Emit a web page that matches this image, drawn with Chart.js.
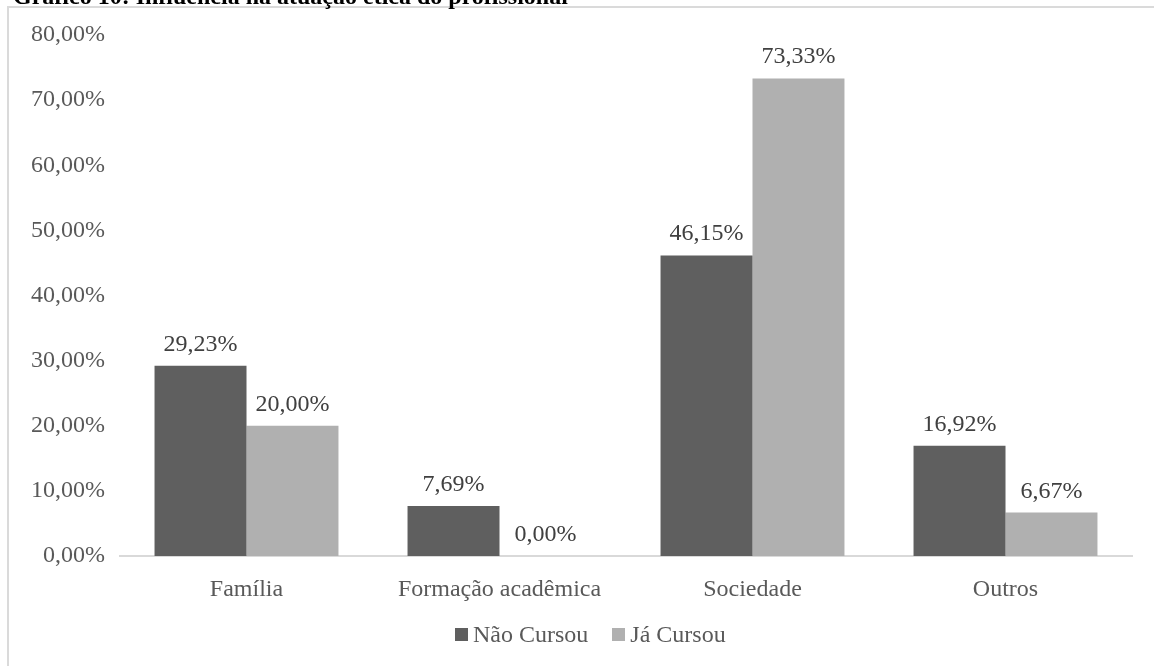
<!DOCTYPE html>
<html>
<head>
<meta charset="utf-8">
<script src="https://cdn.jsdelivr.net/npm/chart.js@4"></script>
<style>
  html, body { margin: 0; padding: 0; background: #fff; overflow: hidden; }
  body { width: 1154px; height: 666px; position: relative; }
  #frame { position: absolute; left: 7px; top: 6px; width: 1200px; height: 720px; border: 2px solid #dadada; box-sizing: border-box; }
  #chartBox { position: absolute; left: 0; top: 0; width: 1154px; height: 666px; }
  #legend { position: absolute; left: 455px; top: 621px; display: flex; align-items: center;
            font-family: "Liberation Serif", "Times New Roman", serif; font-size: 24px; color: #595959; }
  #legend .item { display: flex; align-items: center; margin-right: 24px; }
  #legend .box { width: 13px; height: 13px; margin-right: 5px; }
</style>
</head>
<body>
<div id="frame"></div>
<div id="chartBox"><canvas id="influencia"></canvas></div>
<div id="legend"></div>
<script>
const categories = ['Família', 'Formação acadêmica', 'Sociedade', 'Outros'];
const naoCursou = [29.23, 7.69, 46.15, 16.92];
const jaCursou = [20.00, 0.00, 73.33, 6.67];
const seriesNames = ['Não Cursou', 'Já Cursou'];
const titleText = 'Gráfico 10: Influência na atuação ética do profissional';

const serif = '"Liberation Serif", "Times New Roman", serif';
const pct = v => v.toFixed(2).replace('.', ',') + '%';

// value labels above each bar
const barLabels = {
  id: 'barLabels',
  afterDatasetsDraw(chart) {
    const c = chart.ctx;
    c.save();
    c.font = '24px ' + serif;
    c.fillStyle = '#404040';
    c.textAlign = 'center';
    c.textBaseline = 'alphabetic';
    chart.data.datasets.forEach((ds, i) => {
      chart.getDatasetMeta(i).data.forEach((bar, j) => {
        c.fillText(pct(ds.data[j]), bar.x, bar.y - 15);
      });
    });
    c.restore();
  }
};

// heading line sitting at the very top edge
const topHeading = {
  id: 'topHeading',
  beforeDraw(chart) {
    const c = chart.ctx;
    c.save();
    c.font = 'bold 24px ' + serif;
    c.fillStyle = '#000';
    c.textAlign = 'left';
    c.textBaseline = 'alphabetic';
    c.fillText(titleText, 13, 4);
    c.restore();
  }
};

const chart = new Chart(document.getElementById('influencia').getContext('2d'), {
  type: 'bar',
  data: {
    labels: categories,
    datasets: [
      { label: seriesNames[0], data: naoCursou, backgroundColor: '#5f5f5f' },
      { label: seriesNames[1], data: jaCursou, backgroundColor: '#b0b0b0' }
    ]
  },
  options: {
    responsive: true,
    maintainAspectRatio: false,
    animation: false,
    categoryPercentage: 0.727,
    barPercentage: 1,
    layout: { padding: { left: 27, right: 22, top: 35, bottom: 50 } },
    plugins: {
      legend: { display: false },
      tooltip: { enabled: false }
    },
    scales: {
      x: {
        grid: { display: false },
        border: { color: '#d9d9d9', width: 2 },
        ticks: { color: '#595959', font: { family: serif, size: 24 }, padding: 11 },
        afterFit(s) { s.height = 60; }
      },
      y: {
        min: 0,
        max: 80,
        grid: { display: false, drawTicks: false },
        border: { display: false },
        ticks: {
          stepSize: 10,
          color: '#595959',
          font: { family: serif, size: 24 },
          padding: 15,
          callback: v => pct(v)
        },
        afterFit(s) { s.width = 93; }
      }
    }
  },
  plugins: [barLabels, topHeading]
});

// legend built from the datasets
const legend = document.getElementById('legend');
chart.data.datasets.forEach(ds => {
  const item = document.createElement('div');
  item.className = 'item';
  const box = document.createElement('span');
  box.className = 'box';
  box.style.background = ds.backgroundColor;
  const txt = document.createElement('span');
  txt.textContent = ds.label;
  item.appendChild(box);
  item.appendChild(txt);
  legend.appendChild(item);
});
</script>
</body>
</html>
